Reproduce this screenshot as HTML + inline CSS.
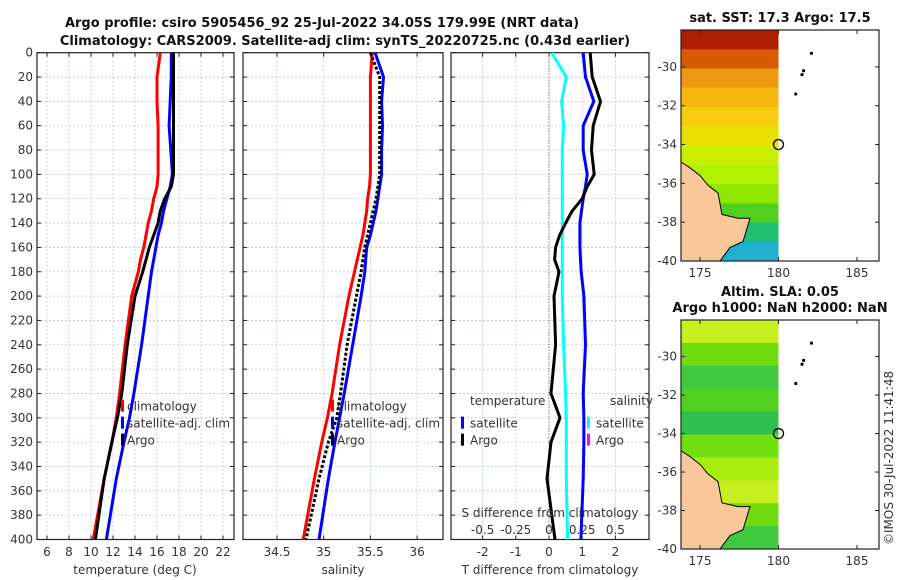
<!DOCTYPE html>
<html><head><meta charset="utf-8"><style>
body{margin:0;background:#fff;}
svg{display:block;font-family:"DejaVu Sans","Liberation Sans",sans-serif;}
.t{font-size:13px;font-weight:bold;fill:#111;}
.tk{font-size:12px;fill:#333;}
.grid{stroke:#b8c4e8;stroke-width:0.8;stroke-dasharray:2,2;}
</style></head><body>
<svg id="c" width="900" height="580" viewBox="0 0 900 580">
<text class="t" x="322" y="27" text-anchor="middle">Argo profile: csiro 5905456_92 25-Jul-2022 34.05S 179.99E (NRT data)</text>
<text class="t" x="345" y="45" text-anchor="middle">Climatology: CARS2009. Satellite-adj clim: synTS_20220725.nc (0.43d earlier)</text>
<g id="plots"></g>
<text class="tk" transform="translate(893,545) rotate(-90)">©IMOS 30-Jul-2022 11:41:48</text>
</svg>
<script>
// ---- data ----
const depths = [0,20,40,60,80,100,110,120,130,140,150,160,170,180,200,240,280,300,320,350,400];
const tempClim = [16.3,16.0,16.0,16.1,16.1,16.1,16.0,15.7,15.5,15.2,15.0,14.8,14.5,14.3,13.7,13.1,12.6,12.3,11.9,11.2,10.2];
const tempSat  = [17.3,17.3,17.2,17.1,17.25,17.4,17.2,16.9,16.6,16.4,16.1,15.9,15.7,15.5,15.2,14.6,13.9,13.5,13.0,12.3,11.4];
const tempArgo = [17.5,17.5,17.5,17.5,17.5,17.5,17.3,16.7,16.3,16.1,15.7,15.3,15.0,14.7,14.0,13.3,12.8,12.4,11.9,11.2,10.4];
const salClim  = [35.52,35.5,35.5,35.5,35.5,35.5,35.49,35.47,35.46,35.44,35.42,35.39,35.36,35.33,35.27,35.17,35.09,35.04,34.98,34.9,34.78];
const salSat   = [35.55,35.64,35.62,35.63,35.62,35.62,35.6,35.58,35.56,35.53,35.5,35.46,35.45,35.44,35.4,35.31,35.22,35.17,35.12,35.05,34.95];
const salArgo  = [35.5,35.6,35.6,35.6,35.6,35.6,35.58,35.56,35.53,35.5,35.47,35.44,35.42,35.4,35.35,35.25,35.18,35.14,35.05,34.95,34.81];
const tdiffSat = [1.03,1.1,1.35,1.03,1.03,1.15,1.1,1.03,0.98,0.93,0.93,0.93,0.95,0.97,1.05,1.1,1.03,1.05,1.05,1.03,0.96];
const tdiffArgo= [1.24,1.3,1.55,1.33,1.28,1.36,1.15,1.0,0.7,0.5,0.32,0.2,0.17,0.3,0.15,0.2,0.06,0.33,0.06,-0.06,0.18];
const sdiffSat = [0.02,0.13,0.095,0.11,0.1,0.1,0.1,0.1,0.1,0.1,0.1,0.1,0.1,0.1,0.1,0.11,0.125,0.13,0.13,0.13,0.14];
const depthTicks = [0,20,40,60,80,100,120,140,160,180,200,220,240,260,280,300,320,340,360,380,400];
const tempTicks = [6,8,10,12,14,16,18,20,22];
const salTicks = [34.5,35,35.5,36];
const tdTicks = [-2,-1,0,1,2];
const sdTickLabels = ["-0.5","-0.25","0","0.25","0.5"];
const latTicks = [-30,-32,-34,-36,-38,-40];
const lonTicks = [175,180,185];

const NS="http://www.w3.org/2000/svg";
const root=document.getElementById('plots');
function el(tag,attrs,parent){const e=document.createElementNS(NS,tag);for(const k in attrs)e.setAttribute(k,attrs[k]);(parent||root).appendChild(e);return e;}
const Y0=52.7, YPX=1.217;
const yD=d=>Y0+d*YPX;
const xT=v=>47+(v-6)*11;
const xS=v=>277+(v-34.5)*93.4;
const xTD=v=>549+v*33.2;
const xSD=v=>549+v*4*33.2;
const panels=[[37,234],[243,443],[451,649]];
function frame(p,name,xticks,xf,labels){
  const [l,r]=p;
  const g=el('g',{});
  
  
  depthTicks.forEach(d=>{el('line',{x1:l,x2:r,y1:yD(d),y2:yD(d),class:'grid'},g);el('line',{x1:l,x2:l+4,y1:yD(d),y2:yD(d),stroke:'#222'},g);el('line',{x1:r-4,x2:r,y1:yD(d),y2:yD(d),stroke:'#222'},g);});
  xticks.forEach((t,i)=>{const x=xf(t);el('line',{x1:x,x2:x,y1:Y0,y2:yD(400),class:'grid'},g);el('line',{x1:x,x2:x,y1:yD(400),y2:yD(400)-4,stroke:'#222'},g);el('line',{x1:x,x2:x,y1:Y0,y2:Y0+4,stroke:'#222'},g);
    const tx=el('text',{x:x,y:556,class:'tk','text-anchor':'middle'},g);tx.textContent=labels?labels[i]:t;});
  el('rect',{x:l,y:Y0,width:r-l,height:yD(400)-Y0,fill:'none',stroke:'#222','stroke-width':1.2},g);
  return g;
}
function line(g,xs,xf,color,name,dash){
  const pts=depths.map((d,i)=>xf(xs[i]).toFixed(1)+','+yD(d).toFixed(1)).join(' ');
  const pl=el('polyline',{points:pts,fill:'none',stroke:color,'stroke-width':3,'stroke-linejoin':'round'},g);
  if(dash)pl.setAttribute('stroke-dasharray',dash);
  
  
}
function txt(g,x,y,s,name,anchor,cls){const t=el('text',{x:x,y:y,class:cls||'tk','text-anchor':anchor||'start'},g);t.textContent=s;return t;}
// panel 1
const g1=frame(panels[0],'temperature-panel',tempTicks,xT);
depthTicks.forEach(d=>{const t=txt(g1,33,yD(d)+4,String(d),'depth-tick-label','end');});
line(g1,tempClim,xT,'#f00','temp-climatology-line');
line(g1,tempSat,xT,'#00f','temp-satellite-line');
line(g1,tempArgo,xT,'#000','temp-argo-line');
txt(g1,135,574,'temperature (deg C)','x-axis-title-temperature','middle');
function legend(g,x,items){items.forEach((it,i)=>{const y=yD(290)+i*17;el('rect',{x:x,y:y-6,width:3,height:12,fill:it[0]},g);txt(g,x+6,y+5,it[1],'legend-entry');});}
legend(g1,121,[['#f00','climatology'],['#00f','satellite-adj. clim'],['#000','Argo']]);
// panel 2
const g2=frame(panels[1],'salinity-panel',salTicks,xS);
line(g2,salClim,xS,'#f00','sal-climatology-line');
line(g2,salSat,xS,'#00f','sal-satellite-line');
line(g2,salArgo,xS,'#000','sal-argo-line','3,2');
txt(g2,343,574,'salinity','x-axis-title-salinity','middle');
legend(g2,331,[['#f00','climatology'],['#00f','satellite-adj. clim'],['#000','Argo']]);
// panel 3
const g3=frame(panels[2],'difference-panel',tdTicks,xTD);
el('line',{x1:xTD(0),x2:xTD(0),y1:Y0,y2:yD(400),stroke:'#665533','stroke-dasharray':'1,2'},g3);
line(g3,sdiffSat,xSD,'#0ff','sal-diff-satellite-line');
line(g3,tdiffSat,xTD,'#00f','temp-diff-satellite-line');
line(g3,tdiffArgo,xTD,'#000','temp-diff-argo-line');
txt(g3,550,574,'T difference from climatology','x-axis-title-tdiff','middle');
txt(g3,550,517,'S difference from climatology','s-diff-axis-title','middle');
sdTickLabels.forEach((s,i)=>txt(g3,xTD(tdTicks[i]),534,s,'s-diff-tick-label','middle'));
txt(g3,470,405,'temperature','legend-header-temperature');
txt(g3,610,405,'salinity','legend-header-salinity');
[['#00f','satellite',461],['#000','Argo',461],['#0ff','satellite',587],['#f0f','Argo',587]].forEach((it,i)=>{const y=yD(290)+17+(i%2)*17;el('rect',{x:it[2],y:y-6,width:3,height:12,fill:it[0]},g3);txt(g3,it[2]+9,y+5,it[1],'legend-entry');});
// maps
function map(top,bot,title,name,colors){
  const g=el('g',{});
  const L=681,R=879,lonX=v=>700+(v-175)*15.7,latY=v=>top+(bot-top)*((-28.1-v)/11.9);
  const h=(bot-top)/colors.length;
  colors.forEach((c,i)=>el('rect',{x:L,y:top+i*h,width:lonX(180)-L,height:h+0.5,fill:c},g));
  const land=el('path',{d:`M${L} ${latY(-34.9)} L690 ${latY(-35.2)} L700 ${latY(-35.6)} L708 ${latY(-36.1)} L718 ${latY(-36.5)} L722 ${latY(-37.6)} L738 ${latY(-37.8)} L750 ${latY(-37.8)} L743 ${latY(-39)} L730 ${latY(-39.3)} L720 ${latY(-40)} L${L} ${latY(-40)} Z`,fill:'#f8c89a',stroke:'#000','stroke-width':1},g);
  
  
  [[182.1,-29.3],[181.5,-30.4],[181.6,-30.2],[181.1,-31.4]].forEach(p=>el('circle',{cx:lonX(p[0]),cy:latY(p[1]),r:1.6,fill:'#000'},g));
  el('circle',{cx:lonX(180),cy:latY(-34),r:5,fill:'none',stroke:'#000','stroke-width':1.3},g);
  el('rect',{x:L,y:top,width:R-L,height:bot-top,fill:'none',stroke:'#222','stroke-width':1.2},g);
  latTicks.forEach(v=>{el('line',{x1:L,x2:L+4,y1:latY(v),y2:latY(v),stroke:'#222'},g);el('line',{x1:R-4,x2:R,y1:latY(v),y2:latY(v),stroke:'#222'},g);txt(g,677,latY(v)+4,String(v),'lat-tick-label','end');});
  lonTicks.forEach(v=>{el('line',{x1:lonX(v),x2:lonX(v),y1:bot,y2:bot-4,stroke:'#222'},g);el('line',{x1:lonX(v),x2:lonX(v),y1:top,y2:top+4,stroke:'#222'},g);txt(g,lonX(v),bot+16,String(v),'lon-tick-label','middle');});
  title.forEach((s,i)=>txt(g,780,top-8-(title.length-1-i)*16,s,'map-title','middle','t'));
}
map(30,261,['sat. SST: 17.3 Argo: 17.5'],'sst-map',['#b01c00','#d85a00','#ee9a10','#f4b810','#f6cc10','#e8e000','#c8f000','#b0f000','#90e800','#50d020','#20c070','#20b0d0']);
map(320,549,['Altim. SLA: 0.05','Argo h1000: NaN h2000: NaN'],'sla-map',['#c8f020','#70dc10','#40c840','#50d020','#30c050','#70e010','#a8ec10','#c8f020','#70dc10','#40c840']);
</script>
</body></html>
